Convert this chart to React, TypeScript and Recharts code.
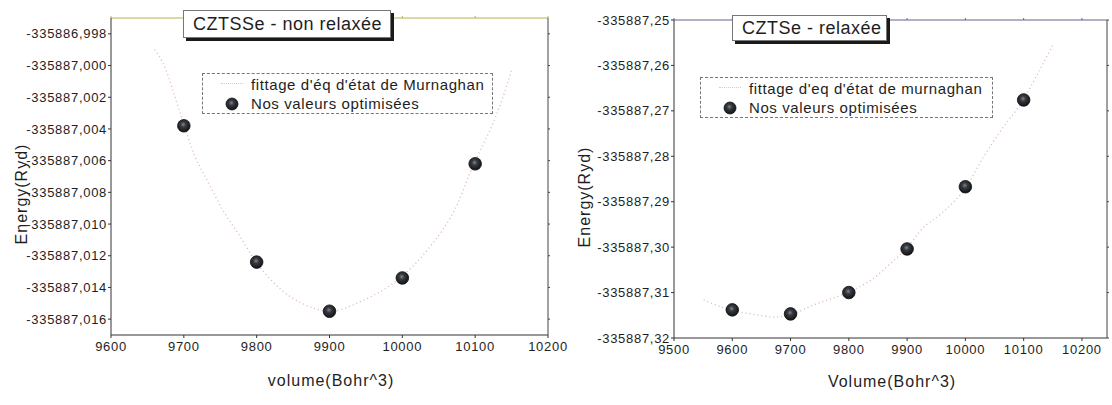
import React from "react";
import { ScatterChart, Scatter, XAxis, YAxis } from "recharts";

// CZTSSe (non relaxée) – computed points
const leftVolumes = [9700, 9800, 9900, 10000, 10100];
const leftEnergies = [-335887.0038, -335887.0124, -335887.0155, -335887.0134, -335887.0062];

// CZTSSe – Murnaghan fit, sampled along the curve
const leftFitVolumes = [
  9660, 9673, 9686, 9700, 9715, 9734, 9752, 9776, 9798, 9830, 9862, 9900, 9947, 9994,
  10035, 10076, 10098, 10112, 10135, 10150,
];
const leftFitEnergies = [
  -335886.999, -335887.0, -335887.0017, -335887.0037, -335887.0057, -335887.0074,
  -335887.009, -335887.0107, -335887.0123, -335887.014, -335887.015, -335887.0155,
  -335887.0148, -335887.0135, -335887.0116, -335887.0087, -335887.0062, -335887.0049,
  -335887.0024, -335887.0003,
];

const leftXTicks = [9600, 9700, 9800, 9900, 10000, 10100, 10200];
const leftYTicks = [
  -335886.998, -335887.0, -335887.002, -335887.004, -335887.006, -335887.008,
  -335887.01, -335887.012, -335887.014, -335887.016,
];

// CZTSe (relaxée) – computed points
const rightVolumes = [9600, 9700, 9800, 9900, 10000, 10100];
const rightEnergies = [-335887.3138, -335887.3147, -335887.31, -335887.3004, -335887.2867, -335887.2676];

// CZTSe – Murnaghan fit
const rightFitVolumes = [
  9551, 9596, 9642, 9672, 9697, 9740, 9797, 9843, 9874, 9898, 9927, 9956, 10001, 10030,
  10059, 10099, 10123, 10150,
];
const rightFitEnergies = [
  -335887.3116, -335887.3138, -335887.3149, -335887.3154, -335887.315, -335887.3127,
  -335887.31, -335887.3068, -335887.3033, -335887.3004, -335887.2958, -335887.2929,
  -335887.2868, -335887.2804, -335887.2747, -335887.2676, -335887.2621, -335887.2555,
];

const rightXTicks = [9500, 9600, 9700, 9800, 9900, 10000, 10100, 10200];
const rightYTicks = [
  -335887.25, -335887.26, -335887.27, -335887.28, -335887.29, -335887.3, -335887.31, -335887.32,
];

const zip = (vs: number[], es: number[]) => vs.map((v, i) => ({ v, e: es[i] }));

const FONT = "'Liberation Sans', Arial, sans-serif";
const TEXT = "#1e1e1e";

const SphereDot = (props: any) => {
  const { cx, cy } = props;
  if (cx == null || cy == null) return <g />;
  return <circle cx={cx} cy={cy} r={6.3} fill="url(#sphere)" stroke="#111" strokeWidth={0.8} />;
};

const NoDot = () => <g />;

interface PanelProps {
  left: number;
  width: number;
  margin: { top: number; right: number; bottom: number; left: number };
  points: { v: number; e: number }[];
  fit: { v: number; e: number }[];
  xDomain: [number, number];
  yDomain: [number, number];
  xTicks: number[];
  yTicks: number[];
  decimals: number;
  topColor: string;
}

const Panel: React.FC<PanelProps> = (p) => {
  const tickStyle = { fontSize: 13, fill: TEXT, fontFamily: FONT, letterSpacing: 0.7 };
  const fmtY = (val: number) => val.toFixed(p.decimals).replace(".", ",");
  return (
    <div style={{ position: "absolute", left: p.left, top: 0 }}>
      <ScatterChart width={p.width} height={405} margin={p.margin}>
        <XAxis
          dataKey="v"
          type="number"
          domain={p.xDomain}
          ticks={p.xTicks}
          allowDataOverflow
          height={30}
          tickSize={3}
          tickMargin={4}
          stroke="#333"
          tick={tickStyle}
        />
        {/* top and right axes close the frame; the fit curve is plotted on them */}
        <XAxis
          xAxisId="top"
          orientation="top"
          dataKey="v"
          type="number"
          domain={p.xDomain}
          ticks={p.xTicks}
          allowDataOverflow
          height={1}
          tickSize={2}
          tickFormatter={() => ""}
          stroke={p.topColor}
        />
        <YAxis
          dataKey="e"
          type="number"
          domain={p.yDomain}
          ticks={p.yTicks}
          allowDataOverflow
          width={100}
          tickSize={3}
          tickMargin={1}
          stroke="#333"
          tick={tickStyle}
          tickFormatter={fmtY}
        />
        <YAxis
          yAxisId="right"
          orientation="right"
          dataKey="e"
          type="number"
          domain={p.yDomain}
          ticks={p.yTicks}
          allowDataOverflow
          width={1}
          tickSize={2}
          tickFormatter={() => ""}
          stroke="#444"
        />
        <Scatter
          xAxisId="top"
          yAxisId="right"
          data={p.fit}
          line={{ stroke: "#dcb3bb", strokeWidth: 1.3, strokeDasharray: "1 3" }}
          lineJointType="monotoneX"
          shape={NoDot}
          isAnimationActive={false}
        />
        <Scatter data={p.points} shape={SphereDot} isAnimationActive={false} />
      </ScatterChart>
    </div>
  );
};

const TitleBox: React.FC<{ x: number; y: number; w: number; h: number; text: string }> = ({ x, y, w, h, text }) => (
  <div
    style={{
      position: "absolute",
      left: x,
      top: y,
      width: w,
      height: h,
      boxSizing: "border-box",
      background: "#fff",
      border: "1px solid #777",
      boxShadow: "3px 3px 0 #1a1a1a",
      fontFamily: FONT,
      fontSize: 18,
      letterSpacing: 0.5,
      color: TEXT,
      lineHeight: `${h - 2}px`,
      paddingLeft: 9,
      whiteSpace: "nowrap",
    }}
  >
    {text}
  </div>
);

const LegendBox: React.FC<{ x: number; y: number; w: number; h: number; fitLabel: string }> = ({ x, y, w, h, fitLabel }) => (
  <div
    style={{
      position: "absolute",
      left: x,
      top: y,
      width: w,
      height: h,
      boxSizing: "border-box",
      background: "#fff",
      border: "1px dashed #777",
      fontFamily: FONT,
      fontSize: 15,
      letterSpacing: 0.6,
      color: TEXT,
      whiteSpace: "nowrap",
    }}
  >
    <div style={{ position: "absolute", left: 18, top: 9, width: 22, borderTop: "1.4px dotted #e2c4ca" }} />
    <div style={{ position: "absolute", left: 48, top: 1, lineHeight: "19px" }}>{fitLabel}</div>
    <svg style={{ position: "absolute", left: 22, top: 23 }} width={14} height={14}>
      <circle cx={7} cy={7} r={6} fill="url(#sphere)" stroke="#111" strokeWidth={0.8} />
    </svg>
    <div style={{ position: "absolute", left: 48, top: 20, lineHeight: "19px" }}>Nos valeurs optimisées</div>
  </div>
);

const AxisTitle: React.FC<{ x: number; y: number; text: string; rotate?: boolean }> = ({ x, y, text, rotate }) => (
  <div
    style={{
      position: "absolute",
      left: x,
      top: y,
      transform: `translate(-50%, -50%)${rotate ? " rotate(-90deg)" : ""}`,
      fontFamily: FONT,
      fontSize: 16,
      letterSpacing: 1,
      color: TEXT,
      whiteSpace: "nowrap",
    }}
  >
    {text}
  </div>
);

export default function App() {
  return (
    <div style={{ position: "absolute", left: 0, top: 0, width: 1112, height: 405, background: "#fff", overflow: "hidden" }}>
      <svg width={0} height={0} style={{ position: "absolute" }}>
        <defs>
          <radialGradient id="sphere" cx="45%" cy="40%" r="60%">
            <stop offset="0%" stopColor="#80858c" />
            <stop offset="35%" stopColor="#363a40" />
            <stop offset="100%" stopColor="#121212" />
          </radialGradient>
        </defs>
      </svg>

      <Panel
        left={0}
        width={580}
        margin={{ top: 17, right: 31, bottom: 40, left: 11 }}
        points={zip(leftVolumes, leftEnergies)}
        fit={zip(leftFitVolumes, leftFitEnergies)}
        xDomain={[9600, 10200]}
        yDomain={[-335887.017, -335886.997]}
        xTicks={leftXTicks}
        yTicks={leftYTicks}
        decimals={3}
        topColor="#b9b24a"
      />
      <Panel
        left={560}
        width={552}
        margin={{ top: 19, right: 4, bottom: 37, left: 14 }}
        points={zip(rightVolumes, rightEnergies)}
        fit={zip(rightFitVolumes, rightFitEnergies)}
        xDomain={[9500, 10243]}
        yDomain={[-335887.32, -335887.25]}
        xTicks={rightXTicks}
        yTicks={rightYTicks}
        decimals={2}
        topColor="#6d5f8e"
      />

      <TitleBox x={183} y={10} w={208} h={28} text="CZTSSe - non relaxée" />
      <LegendBox x={202} y={73} w={291} h={41} fitLabel="fittage d'éq d'état de Murnaghan" />
      <AxisTitle x={22} y={194} text="Energy(Ryd)" rotate />
      <AxisTitle x={331} y={381} text="volume(Bohr^3)" />

      <TitleBox x={732} y={15} w={155} h={26} text="CZTSe - relaxée" />
      <LegendBox x={700} y={77} w={293} h={41} fitLabel="fittage d'eq d'état de murnaghan" />
      <AxisTitle x={585} y={197} text="Energy(Ryd)" rotate />
      <AxisTitle x={892} y={382} text="Volume(Bohr^3)" />
    </div>
  );
}
